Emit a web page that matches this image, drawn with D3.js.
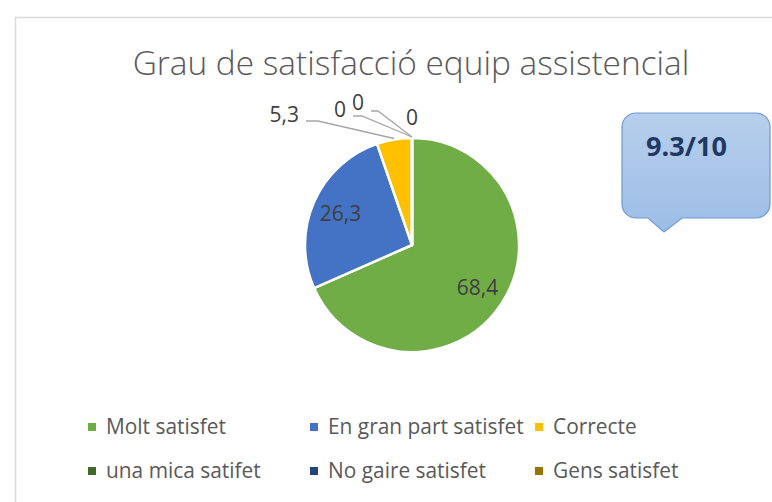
<!DOCTYPE html>
<html>
<head>
<meta charset="utf-8">
<script src="https://cdn.jsdelivr.net/npm/d3@7"></script>
<style>
  body { margin: 0; background: #fff; }
  text { font-family: "Open Sans", "Noto Sans", sans-serif; }
</style>
</head>
<body>
<div id="chart"></div>
<script>
// Data
const categories = ["Molt satisfet", "En gran part satisfet", "Correcte", "una mica satifet", "No gaire satisfet", "Gens satisfet"];
const values = [68.4, 26.3, 5.3, 0, 0, 0];
const colors = ["#70ad47", "#4472c4", "#ffc000", "#43682b", "#264478", "#997300"];
const title = "Grau de satisfacció equip assistencial";
const score = "9.3/10";

const width = 772, height = 502;
const cx = 412, cy = 245, radius = 107;

const svg = d3.select("#chart").append("svg")
  .attr("width", width)
  .attr("height", height);

// gradient for the callout
const defs = svg.append("defs");
const grad = defs.append("linearGradient").attr("id", "calloutFill")
  .attr("x1", 0).attr("y1", 0).attr("x2", 0).attr("y2", 1);
grad.append("stop").attr("offset", "0%").attr("stop-color", "#b7cfec");
grad.append("stop").attr("offset", "100%").attr("stop-color", "#9dbde6");

// chart area border (runs off the right and bottom edge)
svg.append("rect")
  .attr("x", 15.5).attr("y", 17.5)
  .attr("width", width + 20).attr("height", height + 20)
  .attr("fill", "none")
  .attr("stroke", "#d9d9d9")
  .attr("stroke-width", 1.5);

// fit a text element to a given width, returns the new size
function fit(sel, target) {
  const w = sel.node().getComputedTextLength();
  const fs = parseFloat(sel.style("font-size"));
  const nfs = fs * target / w;
  sel.style("font-size", nfs + "px");
  return nfs;
}

// Title
const t = svg.append("text")
  .attr("x", 411).attr("y", 75)
  .attr("text-anchor", "middle")
  .attr("fill", "#595959")
  .style("font-size", "30px")
  .style("font-weight", 300)
  .text(title);
fit(t, 557);

// Pie
const pie = d3.pie().sort(null).value(d => d)
  .startAngle(0).endAngle(2 * Math.PI);
const arcs = pie(values);
const arc = d3.arc().innerRadius(0).outerRadius(radius);
const labelArc = d3.arc().innerRadius(radius * 0.73).outerRadius(radius * 0.73);
const outerArc = d3.arc().innerRadius(radius + 1).outerRadius(radius + 1);

const g = svg.append("g").attr("transform", "translate(" + cx + "," + cy + ")");

g.selectAll(".slice")
  .data(arcs)
  .enter().append("path")
  .attr("class", "slice")
  .attr("d", arc)
  .attr("fill", (d, i) => colors[i])
  .attr("stroke", "#fff")
  .attr("stroke-width", 2.5)
  .attr("stroke-linejoin", "round");

const fmt = v => String(v).replace(".", ",");

// inside labels for the large slices
g.selectAll(".inlabel")
  .data(arcs.filter(d => d.data >= 10))
  .enter().append("text")
  .attr("class", "inlabel")
  .attr("transform", d => "translate(" + labelArc.centroid(d) + ")")
  .attr("text-anchor", "middle")
  .attr("dy", "0.35em")
  .attr("fill", "#404040")
  .style("font-size", "21px")
  .text(d => fmt(d.data));

// outside labels, placed like the spreadsheet did (offsets from centre)
const outside = [
  { i: 2, x: -113, y: -123, ex: -94, ey: -124 },
  { i: 3, x: -66, y: -128, ex: -50, ey: -129 },
  { i: 4, x: -48, y: -135, ex: -34, ey: -134 },
  { i: 5, x: 0, y: -120, ex: null, ey: null }
];

outside.forEach(o => {
  const d = arcs[o.i];
  if (o.ex !== null) {
    const p = outerArc.centroid(d);
    g.append("polyline")
      .attr("points", [[o.x + 7, o.ey], [o.ex, o.ey], p].map(q => q.join(",")).join(" "))
      .attr("fill", "none")
      .attr("stroke", "#a6a6a6")
      .attr("stroke-width", 1.3);
  }
  g.append("text")
    .attr("x", o.x).attr("y", o.y)
    .attr("text-anchor", o.ex !== null ? "end" : "middle")
    .attr("fill", "#404040")
    .style("font-size", "21px")
    .text(fmt(d.data));
});

// Callout box with the score
const bx = 622, by = 113, bw = 148, bh = 105, r = 14;
const px1 = 648, px2 = 682, ptx = 664, pty = 232;
const callout = d3.path();
callout.moveTo(bx + r, by);
callout.lineTo(bx + bw - r, by);
callout.arcTo(bx + bw, by, bx + bw, by + r, r);
callout.lineTo(bx + bw, by + bh - r);
callout.arcTo(bx + bw, by + bh, bx + bw - r, by + bh, r);
callout.lineTo(px2, by + bh);
callout.lineTo(ptx, pty);
callout.lineTo(px1, by + bh);
callout.lineTo(bx + r, by + bh);
callout.arcTo(bx, by + bh, bx, by + bh - r, r);
callout.lineTo(bx, by + r);
callout.arcTo(bx, by, bx + r, by, r);
callout.closePath();

svg.append("path")
  .attr("d", callout.toString())
  .attr("fill", "url(#calloutFill)")
  .attr("stroke", "#6a9bd6")
  .attr("stroke-width", 1.2);

const sc = svg.append("text")
  .attr("x", 646).attr("y", 156)
  .attr("fill", "#1f3864")
  .style("font-size", "25px")
  .style("font-weight", 700)
  .text(score);
fit(sc, 81);

// Legend
const legendPos = [
  { x: 92, y: 427 }, { x: 314, y: 427 }, { x: 539, y: 427 },
  { x: 92, y: 471 }, { x: 314, y: 471 }, { x: 539, y: 471 }
];

const legend = svg.selectAll(".legend")
  .data(categories)
  .enter().append("g")
  .attr("class", "legend")
  .attr("transform", (d, i) => "translate(" + legendPos[i].x + "," + legendPos[i].y + ")");

legend.append("rect")
  .attr("x", -4).attr("y", -4)
  .attr("width", 8).attr("height", 8)
  .attr("fill", (d, i) => colors[i]);

const ltext = legend.append("text")
  .attr("x", 14)
  .attr("dy", "0.35em")
  .attr("fill", "#595959")
  .style("font-size", "18px")
  .text(d => d);

// size legend so the first entry matches the reference width
const lfs = fit(d3.select(ltext.nodes()[0]), 120);
ltext.style("font-size", lfs + "px");
</script>
</body>
</html>
